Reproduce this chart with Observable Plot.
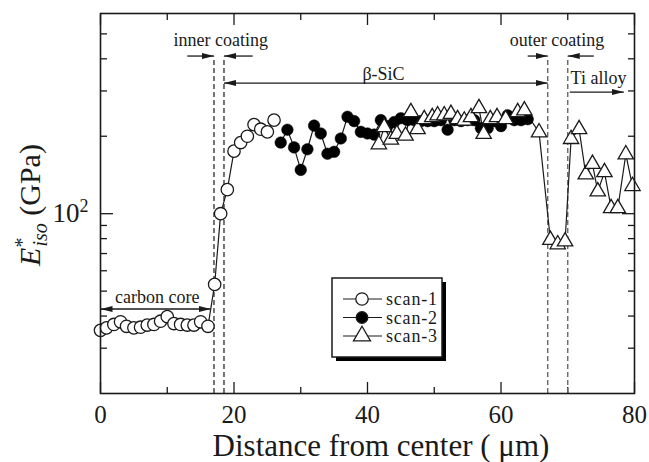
<!DOCTYPE html>
<html><head><meta charset="utf-8">
<script src="https://cdn.jsdelivr.net/npm/d3@7"></script>
<script src="https://cdn.jsdelivr.net/npm/@observablehq/plot@0.6"></script>
<style>body{margin:0;background:#fff;} #chart{position:relative;width:649px;height:462px;} #chart svg text{font-family:'Liberation Serif','Times New Roman',serif;}</style>
</head><body><div id="chart"></div>
<script>
// ---- data ----
const scan1X = [0,0.9,2,3,3.9,5,6,7,8,9,10,11,12,13,14,15,16.1,17.1,18,19,20,21,22,23,24,25,26];
const scan1Y = [35.2,36,37.1,38,36.5,36,36.2,36.9,37.1,38.2,39.8,37.4,37.1,36.9,36.9,38,36.5,53.1,100,124,175,189,200,222,213,208,231];
const scan2X = [27,28,29,30,31,32,33,34,35,36,37,38,39,40,41,42,43,44,45,46,47,48,49,50,51,52,53,54,55,56,57,58,59,60,61,62,63,64];
const scan2Y = [189,212,181,148,178,220,205,171,174,196,238,229,208,205,203,231,219,227,235,231,231,229,229,229,231,212,231,229,231,231,215,215,229,219,241,231,231,233];
const scan3X = [41.7,42.5,43.5,44.4,45.7,46.5,47.5,48.5,49.7,50.5,51.5,52.5,53.5,54.5,55.5,56.7,57.4,58.4,59.4,60.7,62.5,63.5,65.7,67.4,68.5,69.6,70.5,71.7,72.7,73.7,74.5,75.5,76.5,77.5,78.7,79.7];
const scan3Y = [186,217,194,204,201,248,213,233,237,241,241,244,233,230,237,257,204,233,237,233,248,252,207,79,76,78,195,213,142,156,122,145,105,105,170,128];

const xMajor = [0,20,40,60,80];
const xMinor = [10,30,50,70];
const yMajor = [100];
const yMinor = [30,40,50,60,70,80,90,200,300,400,500];

const innerDash = [17,18.5];
const outerDash = [67,70];
const dashTop = 406;

const singleArrows = [
  {x1:13, x2:17, y:410}, {x1:22.8, x2:18.5, y:410},
  {x1:64, x2:67, y:410}, {x1:73.9, x2:70, y:410},
  {x1:70.3, x2:78.4, y:297}
];
const doubleArrows = [
  {x1:18.5, x2:67, y:322}, {x1:0, x2:16.5, y:42.6}
];
const labelText = ["inner coating","β-SiC","outer coating","Ti alloy","carbon core"];
const labelX = [18, 42.4, 68.4, 74.6, 8.5];
const labelY = [474, 349, 474, 336, 47.4];

const seriesNames = ["scan-1","scan-2","scan-3"];

// ---- tables ----
const s1 = scan1X.map((x,i)=>({x, y: scan1Y[i]}));
const s2 = scan2X.map((x,i)=>({x, y: scan2Y[i]}));
const s3 = scan3X.map((x,i)=>({x, y: scan3Y[i]}));
const labels = labelText.map((t,i)=>({t, x: labelX[i], y: labelY[i]}));

const ink = "#1a1a1a";
const font = "'Liberation Serif', 'Times New Roman', serif";

function filledArrow(color) {
  const ns = "http://www.w3.org/2000/svg";
  const m = document.createElementNS(ns, "marker");
  m.setAttribute("viewBox", "-12 -4 12 8");
  m.setAttribute("markerWidth", 12);
  m.setAttribute("markerHeight", 8);
  m.setAttribute("markerUnits", "userSpaceOnUse");
  m.setAttribute("refX", 0);
  m.setAttribute("refY", 0);
  m.setAttribute("orient", "auto-start-reverse");
  const p = document.createElementNS(ns, "path");
  p.setAttribute("d", "M0,0L-12,-3L-12,3Z");
  p.setAttribute("fill", color);
  p.setAttribute("stroke", "none");
  m.appendChild(p);
  return m;
}

const chart = Plot.plot({
  width: 649, height: 462,
  marginLeft: 100, marginRight: 15, marginTop: 13, marginBottom: 69,
  x: {domain: [0, 80]},
  y: {type: "log", domain: [20, 600]},
  style: {fontFamily: font, background: "white", color: ink},
  marks: [
    // tick marks (inward) on all four sides
    Plot.axisX({ticks: xMajor, tickSize: -11, tickFormat: () => "", label: null, stroke: ink, strokeWidth: 1.3}),
    Plot.axisX({ticks: xMinor, tickSize: -6, tickFormat: () => "", label: null, stroke: ink, strokeWidth: 1.3}),
    Plot.axisX({anchor: "top", ticks: xMajor, tickSize: -11, tickFormat: () => "", label: null, stroke: ink, strokeWidth: 1.3}),
    Plot.axisX({anchor: "top", ticks: xMinor, tickSize: -6, tickFormat: () => "", label: null, stroke: ink, strokeWidth: 1.3}),
    Plot.axisY({ticks: yMajor, tickSize: -13, tickFormat: () => "", label: null, stroke: ink, strokeWidth: 1.3}),
    Plot.axisY({ticks: yMinor, tickSize: -7, tickFormat: () => "", label: null, stroke: ink, strokeWidth: 1.3}),
    Plot.axisY({anchor: "right", ticks: yMajor, tickSize: -13, tickFormat: () => "", label: null, stroke: ink, strokeWidth: 1.3}),
    Plot.axisY({anchor: "right", ticks: yMinor, tickSize: -7, tickFormat: () => "", label: null, stroke: ink, strokeWidth: 1.3}),
    // tick labels
    Plot.axisX({ticks: xMajor, tickSize: 0, tickPadding: 12, fontSize: 25, fontFamily: font, label: null, fill: ink}),
    Plot.axisY({ticks: yMajor, tickSize: 0, tickPadding: 12, fontSize: 27, fontFamily: font, tickFormat: () => "10²", label: null, fill: ink}),
    // dashed boundaries
    Plot.ruleX(innerDash, {y1: 20, y2: dashTop, stroke: ink, strokeWidth: 1.2, strokeDasharray: "5,3"}),
    Plot.ruleX(outerDash, {y1: 20, y2: dashTop, stroke: "#666", strokeWidth: 1.4, strokeDasharray: "5,3"}),
    // annotation arrows
    Plot.link(singleArrows, {x1: "x1", x2: "x2", y1: "y", y2: "y", stroke: ink, strokeWidth: 1.3, markerEnd: filledArrow}),
    Plot.link(doubleArrows, {x1: "x1", x2: "x2", y1: "y", y2: "y", stroke: ink, strokeWidth: 1.3, markerStart: filledArrow, markerEnd: filledArrow}),
    Plot.text(labels, {x: "x", y: "y", text: "t", fontSize: 18, fontFamily: font, fill: ink, lineAnchor: "middle"}),
    // series
    Plot.line(s1, {x: "x", y: "y", stroke: ink, strokeWidth: 1.2}),
    Plot.line(s2, {x: "x", y: "y", stroke: ink, strokeWidth: 1.2}),
    Plot.line(s3, {x: "x", y: "y", stroke: ink, strokeWidth: 1.2}),
    Plot.dot(s2, {x: "x", y: "y", r: 5.8, fill: "black", stroke: "black", strokeWidth: 0.5}),
    Plot.dot(s1, {x: "x", y: "y", r: 6.2, fill: "white", stroke: ink, strokeWidth: 1.3}),
    Plot.dot(s3, {x: "x", y: "y", r: 5.7, symbol: "triangle", fill: "white", stroke: ink, strokeWidth: 1.3}),
    Plot.frame({stroke: ink, strokeWidth: 1.6})
  ]
});
document.getElementById("chart").appendChild(chart);

const svg = d3.select(chart);
// render the decade label with a real superscript
svg.selectAll("text").filter(function() { return this.textContent === "10²"; })
  .each(function() {
    const t = d3.select(this);
    t.text("10");
    t.append("tspan").attr("font-size", 18).attr("dy", "-0.55em").text("2");
  });

// y-axis title
const yt = svg.append("text")
  .attr("transform", "translate(40,205) rotate(-90)")
  .attr("text-anchor", "middle")
  .style("font-family", font).attr("font-size", 30).attr("fill", ink);
yt.append("tspan").attr("font-style", "italic").text("E");
yt.append("tspan").attr("font-size", 20).attr("dy", -11).text("*");
yt.append("tspan").attr("font-style", "italic").attr("font-size", 20).attr("dx", -9).attr("dy", 18).text("iso");
yt.append("tspan").attr("dy", -7).text(" (GPa)");
// x-axis title
svg.append("text")
  .attr("x", 381).attr("y", 456)
  .attr("text-anchor", "middle")
  .style("font-family", font).attr("font-size", 31).attr("fill", ink)
  .text("Distance from center ( μm)");

// legend
const lg = svg.append("g");
lg.append("rect").attr("x", 336).attr("y", 282).attr("width", 110).attr("height", 79).attr("fill", "black");
lg.append("rect").attr("x", 332).attr("y", 278).attr("width", 110).attr("height", 79).attr("fill", "white").attr("stroke", ink).attr("stroke-width", 1.5);
const symbols = [d3.symbolCircle, d3.symbolCircle, d3.symbolTriangle];
const fills = ["white", "black", "white"];
const sizes = [Math.PI*6.2*6.2, Math.PI*5.8*5.8, Math.PI*6.3*6.3];
seriesNames.forEach((name, i) => {
  const yy = 299 + i*18.5;
  lg.append("line").attr("x1", 343).attr("x2", 382).attr("y1", yy).attr("y2", yy).attr("stroke", ink).attr("stroke-width", 1.2);
  lg.append("path").attr("d", d3.symbol(symbols[i], sizes[i])())
    .attr("transform", `translate(362,${yy})`)
    .attr("fill", fills[i]).attr("stroke", ink).attr("stroke-width", 1.3);
  lg.append("text").attr("x", 386).attr("y", yy + 6)
    .attr("text-anchor", "start")
    .style("font-family", font).attr("font-size", 18).attr("fill", ink)
    .attr("letter-spacing", 0.8).text(name);
});
</script>
</body></html>
